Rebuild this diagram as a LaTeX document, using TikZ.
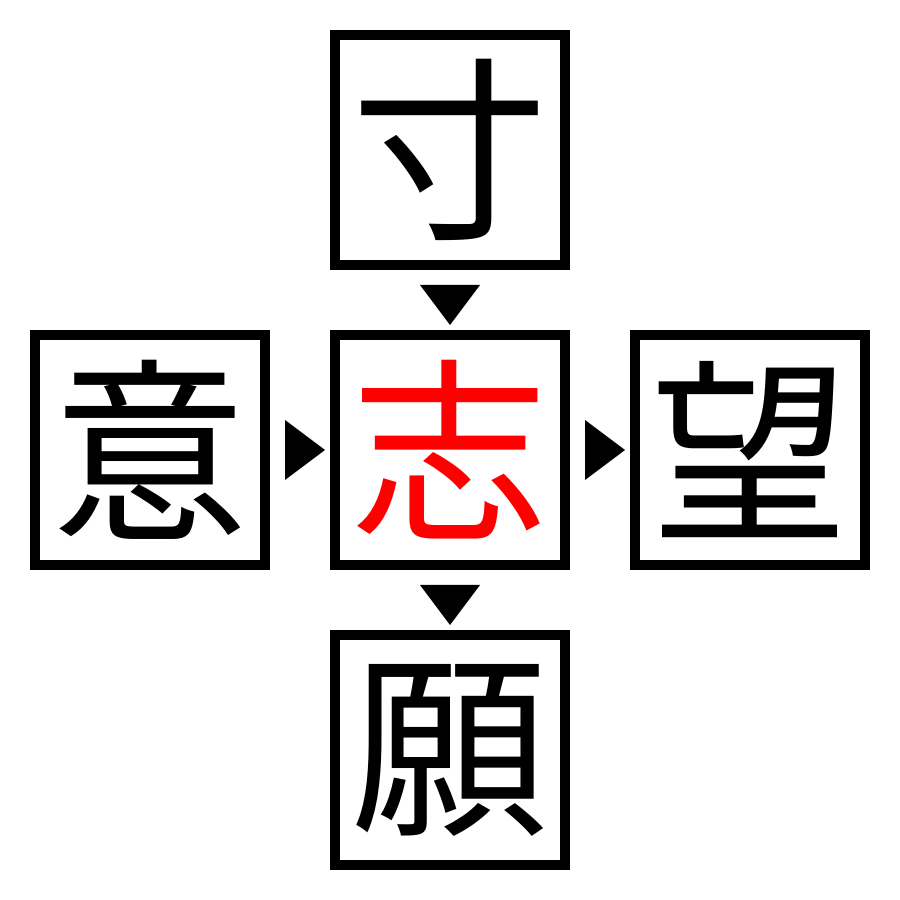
\documentclass[tikz,border=0pt]{standalone}
\usepackage{fontspec}
\newfontfamily\cjk{Noto Sans CJK JP}
\usetikzlibrary{shapes.geometric}
\tikzset{%
  kanji/.style = {shape=rectangle, draw, line width=1mm,%
                  minimum size=2.3cm, inner sep=0pt,%
                  font=\cjk\fontsize{56}{56}\selectfont},%
  focus/.style = {kanji, text=red},%
  tri/.style   = {isosceles triangle, isosceles triangle stretches,%
                  fill=black, inner sep=0pt,%
                  minimum height=4mm, minimum width=6mm}%
}
\begin{document}
\begin{tikzpicture}
	\useasboundingbox (0,0) rectangle (9,9);
	\node [focus] (shi) at (4.5,4.5) {志};%
	\node [kanji] (sun) at (4.5,7.5) {寸};%
	\node [kanji] (i)   at (1.5,4.5) {意};%
	\node [kanji] (bou) at (7.5,4.5) {望};%
	\node [kanji] (gan) at (4.5,1.5) {願};%
	\path (sun) -- (shi) node [tri, midway, shape border rotate=-90] (t1) {};
	\path (i) -- (shi) node [tri, midway] (t2) {};
	\path (shi) -- (bou) node [tri, midway] (t3) {};
	\path (shi) -- (gan) node [tri, midway, shape border rotate=-90] (t4) {};
\end{tikzpicture}
\end{document}
